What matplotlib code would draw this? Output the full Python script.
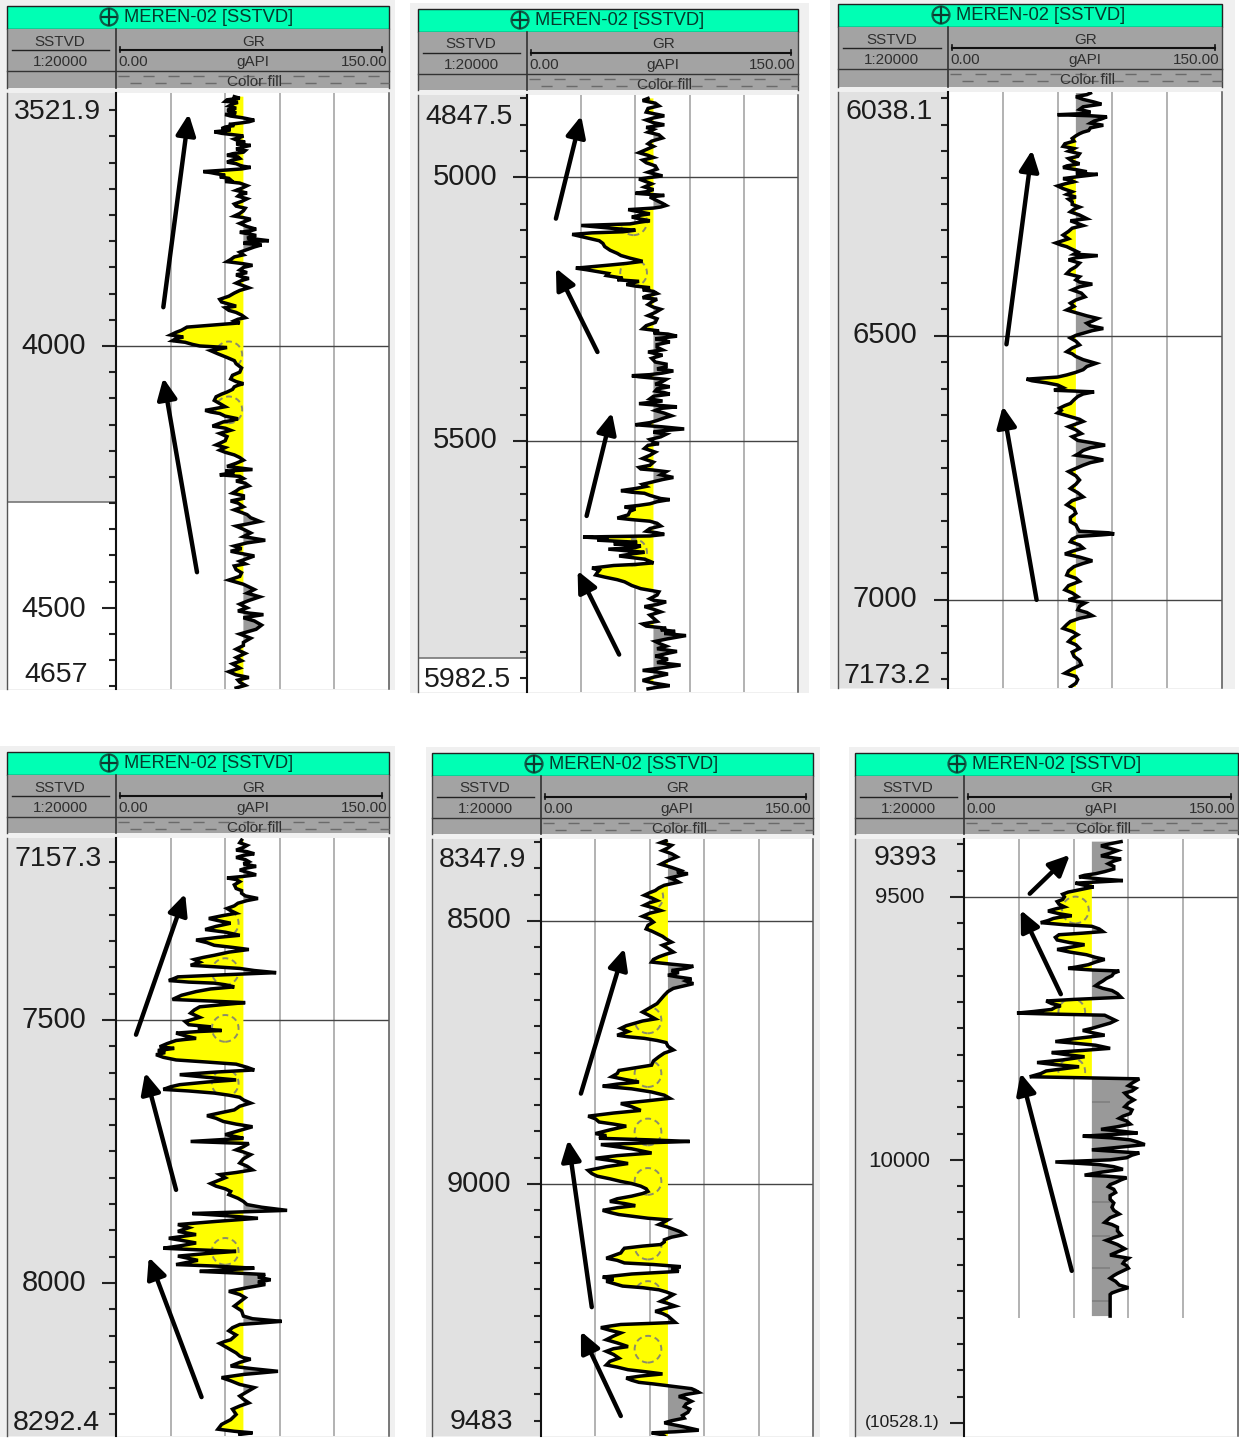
import numpy as np
import matplotlib
matplotlib.use("Agg")
import matplotlib.pyplot as plt
from matplotlib.patches import Rectangle, Circle
from matplotlib.path import Path
from matplotlib.ticker import MultipleLocator
from matplotlib.transforms import blended_transform_factory

plt.rcParams['font.family'] = ['Liberation Sans', 'DejaVu Sans']

W, H = 1239, 1439
WELL_TITLE = "MEREN-02 [SSTVD]"
GR_CUTOFF = 70
GR_MIN, GR_MAX = 0, 150

# (depth, gamma ray in gAPI)
LOG_1 = [(3524,65),(3530,61),(3535,67),(3542,62),(3550,61),(3555,66),(3561,63),(3564,69),(3569,76),(3574,69),(3579,65),(3585,58),(3587,63),(3591,54),(3596,63),(3599,70),(3605,65),(3611,71),(3617,74),(3624,66),(3630,70),(3636,61),(3642,68),(3649,61),(3655,68),(3659,74),(3664,61),(3667,48),(3671,55),(3677,57),(3683,63),(3689,68),(3699,69),(3708,72),(3714,67),(3724,69),(3733,66),(3742,70),(3752,65),(3758,74),(3766,68),(3777,77),(3783,68),(3789,77),(3799,84),(3804,70),(3811,76),(3821,68),(3830,65),(3839,61),(3846,75),(3855,68),(3864,66),(3871,73),(3880,66),(3889,73),(3899,65),(3911,57),(3921,63),(3927,60),(3936,66),(3946,71),(3952,65),(3959,57),(3964,39),(3974,33),(3979,30),(3986,33),(3993,38),(4000,46),(4003,61),(4009,52),(4022,61),(4034,66),(4050,68),(4063,63),(4072,70),(4078,65),(4088,61),(4097,55),(4110,57),(4123,49),(4129,57),(4139,67),(4145,59),(4153,53),(4161,63),(4173,61),(4189,55),(4199,57),(4208,65),(4218,70),(4230,61),(4236,75),(4242,65),(4246,57),(4253,70),(4262,71),(4272,68),(4281,64),(4291,70),(4300,67),(4313,65),(4322,72),(4335,79),(4344,66),(4357,74),(4371,82),(4382,65),(4392,63),(4401,76),(4411,68),(4420,65),(4433,69),(4447,62),(4455,70),(4465,76),(4479,79),(4493,68),(4506,67),(4513,81),(4525,76),(4541,77),(4550,68),(4566,70),(4579,66),(4595,66),(4607,64),(4622,62),(4633,73),(4642,68),(4653,66)]
LOG_2 = [(4850,67),(4859,71),(4869,67),(4883,76),(4891,66),(4900,76),(4909,70),(4919,73),(4931,69),(4941,70),(4953,62),(4962,70),(4972,66),(4984,72),(4997,75),(5003,62),(5012,69),(5023,70),(5030,60),(5034,76),(5044,72),(5053,77),(5058,70),(5061,56),(5069,68),(5075,58),(5082,68),(5088,57),(5091,30),(5097,49),(5103,53),(5108,25),(5116,35),(5125,42),(5138,46),(5144,50),(5153,57),(5159,64),(5166,46),(5172,27),(5178,38),(5186,44),(5191,53),(5197,62),(5203,55),(5209,68),(5216,70),(5225,66),(5231,72),(5241,67),(5250,74),(5262,67),(5275,71),(5287,64),(5291,73),(5297,78),(5301,83),(5306,71),(5312,79),(5322,72),(5331,67),(5337,75),(5350,71),(5359,77),(5367,81),(5374,68),(5376,58),(5380,68),(5387,75),(5397,79),(5405,71),(5411,79),(5420,68),(5429,62),(5435,83),(5442,71),(5452,80),(5461,72),(5469,60),(5477,87),(5483,70),(5492,74),(5502,70),(5508,67),(5521,71),(5533,64),(5546,68),(5553,63),(5558,77),(5569,81),(5577,70),(5586,66),(5594,52),(5599,65),(5606,71),(5611,79),(5619,68),(5625,54),(5633,57),(5646,50),(5652,68),(5661,74),(5671,66),(5677,76),(5682,31),(5688,39),(5692,61),(5699,63),(5705,45),(5711,65),(5718,51),(5724,65),(5731,70),(5736,48),(5741,36),(5749,39),(5758,43),(5767,54),(5780,63),(5786,73),(5799,68),(5805,77),(5814,65),(5824,74),(5836,70),(5847,64),(5855,77),(5861,82),(5869,88),(5880,71),(5889,77),(5899,83),(5908,71),(5914,78),(5925,85),(5935,64),(5942,78),(5954,64),(5964,79),(5970,67)]
LOG_3 = [(6040,78),(6047,70),(6057,80),(6066,74),(6076,78),(6081,60),(6085,87),(6093,80),(6101,85),(6111,77),(6117,72),(6126,68),(6136,64),(6145,69),(6155,72),(6164,66),(6174,72),(6181,63),(6189,76),(6194,82),(6202,63),(6208,69),(6216,60),(6227,68),(6237,70),(6246,68),(6256,72),(6265,67),(6278,76),(6287,71),(6296,68),(6309,63),(6324,59),(6331,65),(6341,71),(6348,82),(6356,66),(6369,70),(6382,65),(6394,70),(6402,79),(6413,68),(6426,75),(6438,67),(6451,65),(6458,72),(6467,82),(6476,76),(6486,85),(6495,74),(6504,67),(6517,72),(6530,65),(6539,70),(6552,81),(6564,74),(6574,65),(6582,43),(6589,54),(6598,63),(6603,58),(6606,80),(6615,71),(6628,67),(6637,61),(6646,60),(6654,68),(6662,74),(6672,66),(6685,73),(6698,71),(6707,86),(6717,74),(6726,70),(6735,85),(6745,74),(6757,66),(6773,72),(6789,67),(6805,74),(6820,65),(6836,70),(6852,67),(6865,71),(6875,91),(6880,71),(6890,67),(6902,74),(6913,64),(6926,79),(6937,69),(6953,65),(6965,72),(6981,64),(6994,71),(7006,75),(7019,71),(7030,79),(7041,67),(7054,63),(7066,71),(7079,66),(7092,72),(7107,69),(7123,73),(7139,64),(7151,71),(7165,67)]
LOG_4 = [(7158,69),(7168,72),(7177,66),(7184,76),(7191,66),(7199,73),(7208,77),(7215,68),(7224,77),(7230,61),(7237,68),(7250,66),(7259,69),(7269,78),(7278,67),(7288,61),(7297,66),(7307,51),(7316,63),(7328,49),(7339,68),(7348,44),(7358,54),(7366,73),(7377,54),(7385,43),(7396,41),(7402,68),(7410,88),(7418,34),(7425,29),(7430,54),(7437,65),(7446,44),(7461,31),(7467,71),(7475,46),(7487,41),(7503,38),(7516,45),(7520,58),(7525,33),(7535,44),(7539,33),(7551,24),(7558,23),(7566,22),(7576,33),(7584,66),(7595,76),(7604,35),(7614,66),(7623,35),(7632,26),(7639,54),(7647,68),(7658,74),(7671,65),(7682,50),(7693,59),(7703,75),(7718,60),(7725,70),(7731,41),(7735,73),(7747,66),(7756,74),(7772,68),(7785,75),(7794,57),(7807,55),(7816,55),(7826,63),(7839,67),(7851,72),(7862,94),(7868,42),(7877,78),(7889,34),(7902,34),(7915,29),(7924,44),(7934,26),(7940,66),(7949,34),(7965,33),(7972,76),(7978,46),(7984,82),(7994,85),(8003,82),(8016,62),(8028,71),(8044,65),(8063,70),(8073,91),(8079,68),(8091,62),(8108,63),(8115,57),(8127,63),(8139,68),(8145,74),(8158,63),(8168,89),(8180,58),(8193,68),(8199,76),(8215,68),(8228,73),(8240,64),(8260,63),(8278,56),(8285,75)]
LOG_5 = [(8347,69),(8356,72),(8366,67),(8378,75),(8392,66),(8404,77),(8410,81),(8418,71),(8426,76),(8432,68),(8442,63),(8451,57),(8461,64),(8470,57),(8480,66),(8491,56),(8502,62),(8515,58),(8524,64),(8534,69),(8546,67),(8559,73),(8568,65),(8578,61),(8586,84),(8594,72),(8603,70),(8610,83),(8619,84),(8628,73),(8641,68),(8657,64),(8673,56),(8686,63),(8695,51),(8704,44),(8717,42),(8723,57),(8731,69),(8745,73),(8758,65),(8774,61),(8784,43),(8796,39),(8806,54),(8814,34),(8825,61),(8837,71),(8847,44),(8860,55),(8871,26),(8882,32),(8890,47),(8904,30),(8913,32),(8919,82),(8925,33),(8941,61),(8951,30),(8961,48),(8974,26),(8985,31),(8995,44),(9004,55),(9014,59),(9023,50),(9033,38),(9041,52),(9050,34),(9058,43),(9065,59),(9068,70),(9077,65),(9087,74),(9096,79),(9106,68),(9115,66),(9122,46),(9131,44),(9141,36),(9150,46),(9157,77),(9166,76),(9177,34),(9185,36),(9194,45),(9201,65),(9210,73),(9223,66),(9232,74),(9242,63),(9251,70),(9263,74),(9267,44),(9273,33),(9283,44),(9296,36),(9309,48),(9318,36),(9331,43),(9344,36),(9353,48),(9361,67),(9369,47),(9377,54),(9383,69),(9389,83),(9396,87),(9404,76),(9413,83),(9423,79),(9434,81),(9445,79),(9454,68),(9468,87),(9473,61),(9479,68)]
LOG_6 = [(9395,86),(9403,75),(9412,84),(9422,75),(9428,86),(9437,79),(9447,82),(9456,72),(9462,63),(9469,87),(9474,61),(9481,71),(9491,57),(9500,55),(9509,51),(9519,55),(9527,46),(9536,59),(9541,49),(9549,42),(9556,70),(9566,76),(9572,52),(9582,51),(9591,66),(9600,51),(9610,67),(9619,77),(9629,68),(9636,57),(9641,85),(9650,81),(9660,76),(9669,72),(9678,81),(9691,86),(9698,45),(9707,53),(9714,48),(9721,29),(9725,77),(9735,83),(9745,75),(9754,65),(9763,77),(9775,50),(9782,72),(9788,80),(9796,48),(9804,66),(9815,40),(9823,63),(9831,45),(9842,36),(9846,96),(9854,92),(9864,94),(9873,88),(9886,93),(9899,88),(9912,91),(9921,85),(9932,91),(9942,75),(9949,95),(9955,65),(9962,91),(9971,99),(9981,70),(9987,96),(9996,89),(10004,50),(10009,74),(10018,87),(10029,66),(10034,89),(10043,83),(10051,79),(10062,83),(10075,80),(10090,81),(10103,85),(10119,77),(10128,84),(10143,86),(10153,78),(10169,88),(10181,80),(10187,90),(10197,87),(10206,90),(10216,84),(10225,80),(10238,85),(10243,90),(10253,81),(10259,80),(10297,80)]

# finer readings of the same logs, between those above
FINE_1 = [(3527,68),(3533,60),(3538,64),(3546,66),(3552,64),(3558,60),(3566,72),(3572,73),(3577,62),(3582,60),(3589,60),(3594,58),(3602,68),(3608,67),(3614,66),(3620,70),(3627,71),(3633,64),(3639,67),(3645,64),(3652,66),(3657,70),(3662,69),(3669,52),(3674,60),(3680,62),(3686,60),(3694,72),(3703,66),(3711,68),(3719,72),(3729,65),(3737,71),(3747,68),(3755,70),(3762,71),(3772,72),(3780,74),(3786,73),(3794,72),(3801,73),(3807,80),(3816,72),(3826,70),(3835,63),(3843,70),(3850,70),(3860,72),(3868,69),(3875,69),(3885,70),(3894,68),(3905,62),(3916,58),(3924,66),(3932,62),(3941,69),(3949,67),(3956,68),(3970,36),(3983,37),(3990,31),(3997,42),(4015,56),(4028,65),(4042,69),(4056,64),(4068,66),(4075,67),(4083,64),(4092,58),(4104,54),(4116,60),(4126,52),(4134,60),(4142,64),(4149,56),(4157,60),(4167,57),(4181,60),(4194,60),(4203,60),(4213,68),(4224,66),(4233,68),(4239,60),(4249,68),(4258,66),(4267,73),(4277,66),(4286,70),(4296,63),(4307,70),(4318,69),(4328,74),(4340,72),(4350,70),(4364,70),(4376,72),(4387,69),(4397,70),(4406,72),(4416,71),(4427,66),(4440,68),(4451,66),(4460,73),(4472,72),(4486,73),(4500,72),(4510,73),(4519,70),(4533,80),(4546,72),(4558,74),(4572,70),(4587,71),(4601,69),(4615,68),(4628,66),(4638,67),(4648,71)]
FINE_2 = [(4854,64),(4864,73),(4876,66),(4887,70),(4896,70),(4905,66),(4914,67),(4925,75),(4936,67),(4947,66),(4958,67),(4967,64),(4978,71),(4990,67),(5000,68),(5008,66),(5018,65),(5027,66),(5037,68),(5049,75),(5056,74),(5065,62),(5072,62),(5079,63),(5085,62),(5100,60),(5105,36),(5120,40),(5131,43),(5148,52),(5163,55),(5175,33),(5182,45),(5194,50),(5206,60),(5213,64),(5220,72),(5228,64),(5236,69),(5246,70),(5256,71),(5268,72),(5281,66),(5295,70),(5304,76),(5309,76),(5317,72),(5327,75),(5334,71),(5343,69),(5354,77),(5363,72),(5371,75),(5378,62),(5383,77),(5392,71),(5401,72),(5408,76),(5415,70),(5424,75),(5432,72),(5438,74),(5447,76),(5456,76),(5465,68),(5473,75),(5480,76),(5487,77),(5497,68),(5505,73),(5514,65),(5527,68),(5540,70),(5550,62),(5555,70),(5564,74),(5573,75),(5582,64),(5590,60),(5597,58),(5603,68),(5609,74),(5615,72),(5622,62),(5629,60),(5640,56),(5649,58),(5656,72),(5666,68),(5674,72),(5680,68),(5685,45),(5695,48),(5702,60),(5708,55),(5714,58),(5721,58),(5728,68),(5734,60),(5745,40),(5754,38),(5763,50),(5774,58),(5783,68),(5792,72),(5802,70),(5810,72),(5819,70),(5830,68),(5842,72),(5851,66),(5858,74),(5865,76),(5875,78),(5885,74),(5894,72),(5904,76),(5911,75),(5920,72),(5930,75),(5938,72),(5948,70),(5959,70),(5967,72)]
FINE_3 = [(6043,76),(6052,74),(6061,84),(6071,72),(6079,74),(6083,78),(6089,84),(6097,78),(6106,78),(6114,74),(6121,70),(6131,69),(6141,63),(6150,66),(6160,71),(6169,68),(6178,65),(6185,70),(6192,70),(6198,72),(6205,67),(6212,64),(6221,63),(6232,65),(6241,66),(6251,68),(6260,69),(6271,72),(6282,67),(6291,74),(6302,66),(6316,66),(6328,62),(6336,68),(6345,69),(6352,70),(6362,72),(6375,67),(6388,72),(6398,72),(6407,72),(6419,73),(6432,70),(6444,69),(6455,69),(6462,76),(6472,79),(6481,78),(6490,79),(6499,70),(6510,70),(6523,68),(6534,68),(6545,74),(6558,76),(6569,70),(6578,60),(6585,46),(6593,60),(6610,74),(6621,69),(6632,64),(6641,62),(6650,64),(6658,72),(6667,70),(6678,70),(6691,68),(6702,78),(6712,78),(6722,72),(6730,78),(6740,78),(6751,70),(6765,70),(6781,70),(6797,71),(6812,68),(6828,69),(6844,67),(6858,70),(6870,72),(6873,88),(6877,84),(6885,68),(6896,72),(6908,68),(6919,72),(6931,74),(6945,66),(6959,70),(6973,66),(6987,68),(7000,66),(7012,72),(7024,76),(7035,72),(7047,65),(7060,68),(7072,68),(7085,70),(7099,68),(7115,72),(7131,68),(7145,70),(7158,70)]
FINE_4 = [(7163,68),(7172,70),(7180,72),(7187,70),(7195,71),(7203,70),(7211,72),(7219,72),(7227,70),(7233,66),(7243,65),(7254,69),(7264,71),(7273,72),(7283,65),(7292,63),(7302,58),(7311,56),(7322,55),(7333,60),(7343,56),(7353,50),(7362,64),(7371,62),(7381,48),(7390,46),(7399,55),(7406,76),(7414,60),(7421,32),(7428,40),(7433,60),(7441,52),(7453,36),(7464,52),(7471,58),(7481,43),(7495,46),(7509,40),(7513,52),(7522,45),(7530,38),(7537,38),(7545,28),(7554,32),(7562,27),(7571,26),(7580,50),(7590,72),(7599,55),(7609,50),(7618,50),(7627,30),(7635,40),(7643,62),(7652,70),(7664,68),(7676,58),(7687,55),(7698,66),(7710,68),(7722,66),(7728,55),(7741,70),(7751,70),(7764,70),(7778,72),(7790,66),(7800,60),(7811,52),(7821,60),(7832,62),(7845,70),(7856,80),(7865,68),(7872,60),(7883,55),(7895,40),(7908,44),(7919,36),(7929,36),(7937,45),(7944,50),(7957,45),(7968,55),(7975,60),(7981,65),(7989,78),(7998,78),(8009,72),(8022,68),(8036,68),(8053,69),(8068,75),(8076,80),(8085,64),(8099,66),(8111,60),(8121,60),(8133,66),(8142,70),(8151,68),(8163,75),(8174,70),(8186,63),(8196,72),(8207,72),(8221,70),(8234,68),(8250,66),(8269,58),(8282,65),(8288,68)]
FINE_5 = [(8351,66),(8361,70),(8372,72),(8385,70),(8398,72),(8407,75),(8414,76),(8422,74),(8429,72),(8437,65),(8446,60),(8456,61),(8465,60),(8475,62),(8485,60),(8496,60),(8508,59),(8519,61),(8529,67),(8540,72),(8552,70),(8563,69),(8573,62),(8582,72),(8590,80),(8598,76),(8606,75),(8614,80),(8624,78),(8634,70),(8649,66),(8665,60),(8680,60),(8690,56),(8699,47),(8710,48),(8720,48),(8727,64),(8738,70),(8751,68),(8766,62),(8779,52),(8790,42),(8801,46),(8810,42),(8819,50),(8831,68),(8842,58),(8853,50),(8865,40),(8876,30),(8886,40),(8897,38),(8908,36),(8916,60),(8922,55),(8933,50),(8946,42),(8956,40),(8967,36),(8980,28),(8990,38),(8999,50),(9009,58),(9018,56),(9028,42),(9037,46),(9045,42),(9054,38),(9062,52),(9072,68),(9082,70),(9091,77),(9101,72),(9110,68),(9118,56),(9126,45),(9136,40),(9145,42),(9153,62),(9161,72),(9171,50),(9181,40),(9189,40),(9197,56),(9205,69),(9216,70),(9227,70),(9237,68),(9246,67),(9257,72),(9265,60),(9270,38),(9278,38),(9289,40),(9302,42),(9313,40),(9324,40),(9337,38),(9348,42),(9357,58),(9365,55),(9373,50),(9380,62),(9386,76),(9392,85),(9400,80),(9408,80),(9418,80),(9428,82),(9440,78),(9450,72),(9461,78),(9471,74),(9476,66)]
FINE_6 = [(9399,80),(9408,80),(9417,80),(9425,80),(9432,82),(9442,82),(9452,77),(9459,66),(9466,75),(9472,72),(9478,66),(9486,64),(9495,54),(9505,54),(9514,52),(9523,50),(9532,52),(9539,52),(9545,46),(9553,55),(9561,74),(9569,65),(9577,50),(9587,58),(9596,58),(9605,58),(9615,72),(9624,72),(9633,62),(9639,70),(9645,82),(9655,78),(9664,74),(9674,76),(9684,84),(9695,60),(9703,48),(9710,50),(9718,38),(9723,50),(9730,80),(9740,80),(9750,70),(9758,70),(9769,62),(9778,60),(9785,76),(9792,65),(9800,56),(9810,54),(9819,50),(9827,54),(9836,42),(9844,65),(9850,94),(9859,90),(9869,92),(9880,90),(9892,90),(9905,92),(9917,87),(9926,89),(9937,84),(9945,85),(9952,80),(9958,80),(9966,95),(9976,85),(9984,83),(9991,92),(10000,80),(10006,60),(10013,82),(10023,76),(10031,78),(10038,86),(10047,80),(10056,82),(10068,80),(10082,82),(10096,82),(10110,80),(10123,81),(10135,84),(10148,82),(10161,84),(10175,84),(10184,85),(10192,88),(10201,89),(10211,87),(10220,82),(10231,83),(10240,87),(10248,85),(10256,80)]
LOGS = [LOG_1, LOG_2, LOG_3, LOG_4, LOG_5, LOG_6]
FINES = [FINE_1, FINE_2, FINE_3, FINE_4, FINE_5, FINE_6]

# (label, depth at which the label sits)
LABELS_1 = [("3521.9",3554),("4000",4000),("4500",4502),("4657",4628)]
LABELS_2 = [("4847.5",4885),("5000",4999),("5500",5498),("5982.5",5954)]
LABELS_3 = [("6038.1",6076),("6500",6498),("7000",6998),("7173.2",7144)]
LABELS_4 = [("7157.3",7194),("7500",7500),("8000",8000),("8292.4",8266)]
LABELS_5 = [("8347.9",8384),("8500",8498),("9000",9000),("9483",9452)]
LABELS_6 = [("9393",9426),("9500",9502),("10000",10004),("(10528.1)",10500)]
LABELS = [LABELS_1, LABELS_2, LABELS_3, LABELS_4, LABELS_5, LABELS_6]
LABEL_SIZES = [[20.5, 21, 21, 20.5]]*5 + [[20.5, 16, 16, 12.5]]
LABEL_X = [[0.465, 0.43, 0.43, 0.45]]*5 + [[0.46, 0.41, 0.41, 0.43]]

DEPTH_LIMITS = [(3517,4655),(4843.5,5976),(6038,7167),(7154,8291),(8344,9479),(9390,10525)]
DEPTH_LINES = [[4000],[5000,5500],[6500,7000],[7500],[8500,9000],[9500]]
SHADE_ENDS = [4298,5912,None,None,None,None]

# dashed reservoir circles (gAPI, depth)
CIRCLES = [[(62,4017),(62,4122)],
           [(59,5084),(59,5181),(59,5711)],
           [],
           [(60,7316),(60,7408),(60,7516),(60,7620),(60,7940)],
           [(60,8454),(59,8688),(59,8790),(59,8901),(59,8995),(59,9118),(59,9210),(59,9314)],
           [(61,9525),(59,9719),(59,9832)]]

# arrows ((gAPI, depth) tail, (gAPI, depth) head)
ARROWS = [[((26,3926),(40,3557)),((44.5,4432),(26,4061))],
          [((16,5078),(30,4883)),((39,5331),(16,5172)),((33,5642),(47,5446)),((51,5905),(28,5746))],
          [((32,6516),(46,6148)),((48.5,7000),(30,6633))],
          [((11,7528),(38,7260)),((33,7823),(16,7600)),((47,8217),(18,7951))],
          [((22,8828),(46,8552)),((28,9234),(15,8916)),((44,9441),(22,9280))],
          [((36,9494),(58,9420)),((53,9685),(31,9525)),((59,10211),(31,9835))]]
STREAKS_6 = [9890,10081,10144,10206,10269]

# layout in pixels: outer left, axis, outer right, header top, track top, track bottom, band left, band right
LAYOUT = [(7,116,389,6,93,689,0,395),
          (418,527,798,9,95,692,410,809),
          (838,948,1222,4,92,688,830,1235),
          (7,116,389,752,838,1436,0,395),
          (432,541,813,753,839,1436,426,820),
          (855,964,1238,753,839,1436,849,1239)]

YELLOW, FILL_GRAY = '#ffff00', '#999999'
TEAL, HEAD_GRAY, COL_GRAY, BAND = '#00ffb4', '#a3a3a3', '#e1e1e1', '#f0f0f0'
TXT = '#2f2f2f'


def rect(x0, y0, x1, y1):
    return [x0/W, 1-y1/H, (x1-x0)/W, (y1-y0)/H]


fig = plt.figure(figsize=(W/100, H/100), dpi=100, facecolor='white')
bg = fig.add_axes([0, 0, 1, 1], zorder=0)
bg.set_xlim(0, W)
bg.set_ylim(H, 0)
bg.axis('off')

for i, (L, A, R, T, TT, TB, BL, BR) in enumerate(LAYOUT):
    # page band and header blocks
    bg.add_patch(Rectangle((BL, max(T-6, 0)), BR-BL, TB+1-max(T-6, 0), fc=BAND, ec='none'))
    bg.add_patch(Rectangle((L, T), R-L, 23, fc=TEAL, ec='#222222', lw=1))
    bg.add_patch(Rectangle((L, T+23), R-L, TT-T-28, fc=HEAD_GRAY, ec='none'))
    bg.plot([L, R], [T+65, T+65], color='#333333', lw=1)
    bg.plot([L, L], [T+23, TT-5], color='#444444', lw=1)
    bg.plot([R, R], [T+23, TT-5], color='#444444', lw=1)
    bg.plot([A, A], [T+23, TT-5], color='#333333', lw=1.2)
    tcx = (A+R)/2+1
    bg.add_patch(Circle((A-7, T+11), 8.5, fc='none', ec='#0d5c48', lw=1.6))
    bg.plot([A-14, A], [T+11, T+11], color='#0d3b30', lw=1.6)
    bg.plot([A-7, A-7], [T+3, T+19], color='#0d3b30', lw=1.6)
    bg.text(A+8, T+11.5, WELL_TITLE, fontsize=13.2, color='#063a2c', ha='left', va='center')
    bg.text((L+A)/2-1.5, T+35.5, 'SSTVD', fontsize=11, color=TXT, ha='center', va='center')
    bg.plot([L+5, A-7], [T+44, T+44], color='#222222', lw=1)
    bg.text((L+A)/2-1.5, T+56, '1:20000', fontsize=11, color=TXT, ha='center', va='center')
    bg.text(tcx, T+35.5, 'GR', fontsize=11, color=TXT, ha='center', va='center')
    bg.plot([A+4, R-7], [T+43.5, T+43.5], color='#111111', lw=1.5)
    bg.plot([A+4, A+4], [T+41, T+46], color='#111111', lw=1.2)
    bg.plot([R-7, R-7], [T+41, T+46], color='#111111', lw=1.2)
    bg.text(A+2, T+56, '0.00', fontsize=11, color=TXT, ha='left', va='center')
    bg.text(tcx-1, T+56, 'gAPI', fontsize=11, color=TXT, ha='center', va='center')
    bg.text(R-2, T+56, '150.00', fontsize=11, color=TXT, ha='right', va='center')
    bg.plot([A+2, R], [T+69.5, T+69.5], color='#6a6a6a', lw=1, dashes=(8, 10))
    bg.plot([A+14, R], [T+77, T+77], color='#6a6a6a', lw=1, dashes=(8, 10))
    bg.text(tcx+1, T+76, 'Color fill', fontsize=11, color=TXT, ha='center', va='center')

    top, bottom = DEPTH_LIMITS[i]
    # depth column
    dep = fig.add_axes(rect(L, TT, A, TB), zorder=1)
    dep.set_xlim(0, 1)
    dep.set_ylim(bottom, top)
    dep.set_xticks([])
    dep.set_yticks([])
    for s in ('top', 'bottom', 'right'):
        dep.spines[s].set_visible(False)
    dep.spines['left'].set_color('#555555')
    dep.spines['left'].set_linewidth(1)
    shade_end = SHADE_ENDS[i] if SHADE_ENDS[i] is not None else bottom
    dep.axhspan(top, shade_end, color=COL_GRAY, lw=0)
    if SHADE_ENDS[i] is not None:
        dep.axhline(shade_end, color='#777777', lw=1.2)
    tr = blended_transform_factory(dep.transAxes, dep.transData)
    for (txt, d), fs, fx in zip(LABELS[i], LABEL_SIZES[i], LABEL_X[i]):
        dep.text(fx, d, txt, transform=tr, fontsize=fs, color='#1c1c1c', ha='center', va='center')

    # track
    ax = fig.add_axes(rect(A, TT, R, TB), zorder=2)
    ax.set_xlim(GR_MIN, GR_MAX)
    ax.set_ylim(bottom, top)
    log = np.array(sorted(LOGS[i] + FINES[i]), dtype=float)
    depth, gr = log[:, 0], log[:, 1]
    grid_end = 10300 if i == 5 else bottom
    ax.vlines([30, 60, 90, 120], top, grid_end, color='#a6a6a6', lw=1.2, zorder=1)
    ax.hlines(DEPTH_LINES[i], GR_MIN, GR_MAX, color='#444444', lw=1, zorder=1)
    sand = ax.fill_betweenx(depth, gr, GR_CUTOFF, where=gr <= GR_CUTOFF, interpolate=True,
                            color=YELLOW, lw=0, zorder=2)
    ax.fill_betweenx(depth, gr, GR_CUTOFF, where=gr >= GR_CUTOFF, interpolate=True,
                     color=FILL_GRAY, lw=0, zorder=2)
    if i == 5:
        ax.hlines(STREAKS_6, 70, 80, color='#7f7f7f', lw=1.2, zorder=2.5)
    if CIRCLES[i]:
        c = np.array(CIRCLES[i], dtype=float)
        marks = ax.scatter(c[:, 0], c[:, 1], s=370, facecolors='none', edgecolors='#8c8c6a',
                           linewidths=1.4, linestyles=(0, (3, 2)), zorder=3)
        # the circles only show through the sand fill
        marks.set_clip_path(Path.make_compound_path(*sand.get_paths()), ax.transData)
    ax.plot(gr, depth, color='black', lw=2.5, solid_joinstyle='miter', zorder=4)
    for tail, head in ARROWS[i]:
        ax.annotate('', xy=head, xytext=tail, annotation_clip=False, zorder=5,
                    arrowprops=dict(arrowstyle='-|>,head_length=0.9,head_width=0.42',
                                    mutation_scale=14, lw=3.2, color='black',
                                    shrinkA=0, shrinkB=0))
    ax.yaxis.set_major_locator(MultipleLocator(500))
    ax.yaxis.set_minor_locator(MultipleLocator(50))
    ax.tick_params(axis='y', which='major', direction='out', length=10, width=1.5, color='#222222', labelleft=False)
    ax.tick_params(axis='y', which='minor', direction='out', length=5, width=1.5, color='#222222')
    ax.set_xticks([])
    for s in ('top', 'bottom'):
        ax.spines[s].set_visible(False)
    ax.spines['left'].set_linewidth(1.5)
    ax.spines['left'].set_color('#111111')
    ax.spines['right'].set_linewidth(1.1)
    ax.spines['right'].set_color('#555555')

fig.savefig('out.png', dpi=100, facecolor='white')
